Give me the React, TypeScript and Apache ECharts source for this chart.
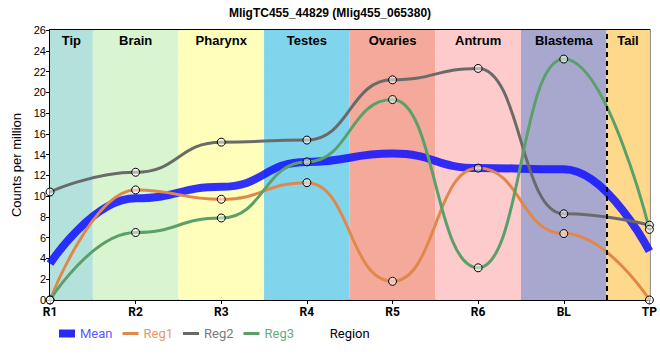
import React, { useEffect, useRef } from "react";
import * as echarts from "echarts";

const categories = ["R1", "R2", "R3", "R4", "R5", "R6", "BL", "TP"];
const meanValues = [3.5, 9.8, 10.9, 13.3, 14.1, 12.7, 12.6, 4.7];
const reg1Values = [0, 10.6, 9.7, 11.3, 1.8, 12.7, 6.4, 0];
const reg2Values = [10.4, 12.3, 15.2, 15.4, 21.2, 22.3, 8.3, 7.2];
const reg3Values = [0, 6.5, 7.9, 13.3, 19.3, 3.1, 23.2, 6.8];
const bandNames = ["Tip", "Brain", "Pharynx", "Testes", "Ovaries", "Antrum", "Blastema", "Tail"];
const bandStarts = [0, 0.5, 1.5, 2.5, 3.5, 4.5, 5.5, 6.5];
const bandEnds = [0.5, 1.5, 2.5, 3.5, 4.5, 5.5, 6.5, 7];
const bandColors = ["#b3e2dd", "#d9f5d0", "#ffffbb", "#80d4eb", "#f4a99b", "#fdcbcb", "#a8a8cf", "#fed98c"];
const dividerAt = 6.5;

const toPairs = (vals: number[]) => vals.map((v, i) => [i, v]);

export default function App() {
  const ref = useRef<HTMLDivElement>(null);
  useEffect(() => {
    document.body.style.margin = "0";
    const chart = echarts.init(ref.current!, null, { renderer: "svg" });
    const marker = {
      symbol: "circle",
      symbolSize: 8,
      showSymbol: true,
      itemStyle: { color: "rgba(255,255,255,0.5)", borderColor: "#000", borderWidth: 1 },
    };
    const lineSeries = (name: string, data: number[], color: string, width: number, withMarkers: boolean) => ({
      name,
      type: "line",
      data: toPairs(data),
      smooth: true,
      smoothMonotone: "x",
      lineStyle: { color, width },
      ...(withMarkers
        ? marker
        : { showSymbol: false, symbol: "none", itemStyle: { color } }),
      emphasis: { disabled: true },
      z: 3,
    });
    const lineIcon = "path://M0,0h16v3h-16z";
    const legendItem = (name: string, icon: string, iconColor: string) => ({
      name,
      icon,
      itemStyle: { color: iconColor, borderWidth: 0, opacity: 1 },
      lineStyle: { width: 0, opacity: 0 },
    });
    const legendTextColors: Record<string, string> = {
      Mean: "#5a5aff",
      Reg1: "#e8956a",
      Reg2: "#7a7a7a",
      Reg3: "#6aaa7a",
    };
    const rich: Record<string, any> = {};
    Object.keys(legendTextColors).forEach((k) => {
      rich[k] = { color: legendTextColors[k], fontFamily: "Roboto", fontSize: 13 };
    });
    chart.setOption({
      animation: false,
      title: {
        text: "MligTC455_44829 (Mlig455_065380)",
        left: "center",
        top: 2,
        textStyle: { fontFamily: "Liberation Sans", fontSize: 12, fontWeight: "bold", color: "#000" },
      },
      grid: { left: 50, right: 10, top: 30, bottom: 60, show: true, borderColor: "#000", borderWidth: 2, backgroundColor: "transparent" },
      legend: {
        left: 54,
        top: 322,
        itemWidth: 16,
        itemHeight: 8,
        itemGap: 10,
        formatter: (n: string) => `{${n}|${n}}`,
        textStyle: { fontFamily: "Roboto", fontSize: 13, rich },
        data: [
          legendItem("Mean", "path://M0,0h16v8h-16z", "#2a2af5"),
          legendItem("Reg1", lineIcon, "#e0884c"),
          legendItem("Reg2", lineIcon, "#6a6a6a"),
          legendItem("Reg3", lineIcon, "#5ba06a"),
        ],
      },
      xAxis: {
        type: "value",
        min: 0,
        max: categories.length - 1,
        interval: 1,
        name: "Region",
        nameLocation: "middle",
        nameGap: 27,
        nameTextStyle: { fontFamily: "Roboto", fontSize: 13, color: "#000" },
        axisLine: { lineStyle: { color: "#000", width: 2 } },
        axisTick: { show: true, length: 4, lineStyle: { color: "#000" } },
        axisLabel: {
          formatter: (v: number) => categories[v] ?? "",
          fontFamily: "Roboto",
          fontWeight: "bold",
          fontSize: 12,
          color: "#000",
          margin: 6,
        },
        splitLine: { show: true, lineStyle: { color: "#c8c8c8", width: 1 } },
      },
      yAxis: {
        type: "value",
        min: 0,
        max: 26,
        interval: 2,
        name: "Counts per million",
        nameLocation: "middle",
        nameGap: 25,
        nameTextStyle: { fontFamily: "Liberation Sans", fontSize: 13, color: "#000" },
        axisLine: { show: true, lineStyle: { color: "#000", width: 2 } },
        axisTick: { show: true, length: 4, lineStyle: { color: "#000" } },
        axisLabel: { fontFamily: "Liberation Sans", fontSize: 11, color: "#000", margin: 4 },
        splitLine: { show: true, lineStyle: { color: "#c8c8c8", width: 1 } },
      },
      series: [
        {
          name: "bands",
          type: "line",
          data: [],
          silent: true,
          z: 1,
          markArea: {
            silent: true,
            data: bandNames.map((n, i) => [
              {
                name: n,
                xAxis: bandStarts[i],
                yAxis: 26,
                itemStyle: { color: bandColors[i], opacity: 1 },
              },
              { xAxis: bandEnds[i], yAxis: 0 },
            ]),
            label: {
              show: true,
              position: "insideTop",
              distance: 4,
              fontFamily: "Liberation Sans",
              fontWeight: "bold",
              fontSize: 13,
              color: "#000",
            },
          },
          markLine: {
            silent: true,
            symbol: "none",
            label: { show: false },
            lineStyle: { color: "#000", width: 2, type: [5, 4] },
            data: [{ xAxis: dividerAt }],
          },
        },
        lineSeries("Mean", meanValues, "rgba(20,20,255,0.88)", 8, false),
        lineSeries("Reg1", reg1Values, "#e0884c", 3, true),
        lineSeries("Reg2", reg2Values, "#6a6a6a", 3, true),
        lineSeries("Reg3", reg3Values, "#5ba06a", 3, true),
      ],
    });
    return () => chart.dispose();
  }, []);
  return <div ref={ref} style={{ width: 660, height: 360 }} />;
}
